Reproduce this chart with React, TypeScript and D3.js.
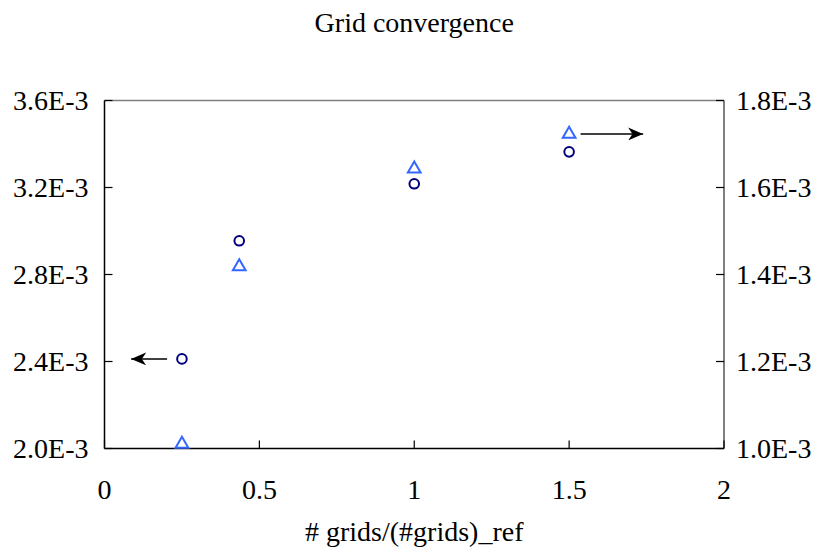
import React from "react";
import * as d3 from "d3";

// values
const xValues = [0.25, 0.435, 1, 1.5];
const leftSeries = [2.412e-3, 2.955e-3, 3.217e-3, 3.364e-3]; // circles, left axis
const rightSeries = [1.01e-3, 1.418e-3, 1.643e-3, 1.723e-3]; // triangles, right axis

const xTicks = [0, 0.5, 1, 1.5, 2];
const leftTicks = [2.0e-3, 2.4e-3, 2.8e-3, 3.2e-3, 3.6e-3];
const rightTicks = [1.0e-3, 1.2e-3, 1.4e-3, 1.6e-3, 1.8e-3];

// arrows pointing to the axis each series belongs to: [fromX, toX, y]
const leftArrow = [0.202, 0.086, 2.412e-3];
const rightArrow = [1.537, 1.739, 1.723e-3];

const W = 824;
const H = 554;
const margin = { left: 104.5, right: 100, top: 100.5, bottom: 105.5 };
const FONT = "'Liberation Serif', 'Times New Roman', serif";
const FS = 28;

const fmtE = (v: number) => `${(v * 1000).toFixed(1)}E-3`;

export default function App() {
  const x = d3.scaleLinear().domain([0, 2]).range([margin.left, W - margin.right]);
  const yL = d3.scaleLinear().domain([2.0e-3, 3.6e-3]).range([H - margin.bottom, margin.top]);
  const yR = d3.scaleLinear().domain([1.0e-3, 1.8e-3]).range([H - margin.bottom, margin.top]);

  const x0 = x(0);
  const x1 = x(2);
  const y0 = yL(2.0e-3);
  const y1 = yL(3.6e-3);
  const tick = 8;
  const tri = d3.symbol().type(d3.symbolTriangle).size(70)();

  return (
    <svg width={W} height={H} style={{ position: "absolute", left: 0, top: 0 }} fontFamily={FONT}>
      <defs>
        <marker id="ah" viewBox="0 0 14 12" refX="14" refY="6" markerWidth="15" markerHeight="13" markerUnits="userSpaceOnUse" orient="auto">
          <path d="M0,0 L14,6 L0,12 L4,6 Z" fill="#000" />
        </marker>
      </defs>
      <rect width={W} height={H} fill="#fff" />
      <text x={(x0 + x1) / 2} y={32} textAnchor="middle" fontSize={FS}>
        Grid convergence
      </text>

      {/* frame */}
      <line x1={x0} x2={x1} y1={y1} y2={y1} stroke="#808080" strokeWidth={1.5} />
      <line x1={x1} x2={x1} y1={y1} y2={y0} stroke="#555" strokeWidth={1.5} />
      <line x1={x0} x2={x0} y1={y1} y2={y0} stroke="#000" strokeWidth={1.5} />
      <line x1={x0} x2={x1} y1={y0} y2={y0} stroke="#000" strokeWidth={1.5} />

      {xTicks.map((t) => (
        <g key={"x" + t}>
          <line x1={x(t)} x2={x(t)} y1={y0} y2={y0 - tick} stroke="#000" strokeWidth={1.2} />
          <text x={x(t)} y={y0 + 50} textAnchor="middle" fontSize={FS}>
            {t}
          </text>
        </g>
      ))}
      {leftTicks.map((t) => (
        <g key={"l" + t}>
          <line x1={x0} x2={x0 + tick} y1={yL(t)} y2={yL(t)} stroke="#000" strokeWidth={1.2} />
          <text x={x0 - 16} y={yL(t)} dy="0.35em" textAnchor="end" fontSize={FS}>
            {fmtE(t)}
          </text>
        </g>
      ))}
      {rightTicks.map((t) => (
        <g key={"r" + t}>
          <line x1={x1} x2={x1 - tick} y1={yR(t)} y2={yR(t)} stroke="#000" strokeWidth={1.2} />
          <text x={x1 + 12} y={yR(t)} dy="0.35em" textAnchor="start" fontSize={FS}>
            {fmtE(t)}
          </text>
        </g>
      ))}

      <text x={(x0 + x1) / 2} y={541} textAnchor="middle" fontSize={FS}>
        # grids/(#grids)_ref
      </text>

      {xValues.map((v, i) => (
        <circle key={"c" + i} cx={x(v)} cy={yL(leftSeries[i])} r={4.8} fill="none" stroke="#000080" strokeWidth={2} />
      ))}
      {xValues.map((v, i) => (
        <path key={"t" + i} d={tri} transform={`translate(${x(v)},${yR(rightSeries[i])})`} fill="none" stroke="#3366ff" strokeWidth={2} />
      ))}

      <line x1={x(leftArrow[0])} x2={x(leftArrow[1])} y1={yL(leftArrow[2])} y2={yL(leftArrow[2])} stroke="#000" strokeWidth={1.5} markerEnd="url(#ah)" />
      <line x1={x(rightArrow[0])} x2={x(rightArrow[1])} y1={yR(rightArrow[2])} y2={yR(rightArrow[2])} stroke="#000" strokeWidth={1.5} markerEnd="url(#ah)" />
    </svg>
  );
}
